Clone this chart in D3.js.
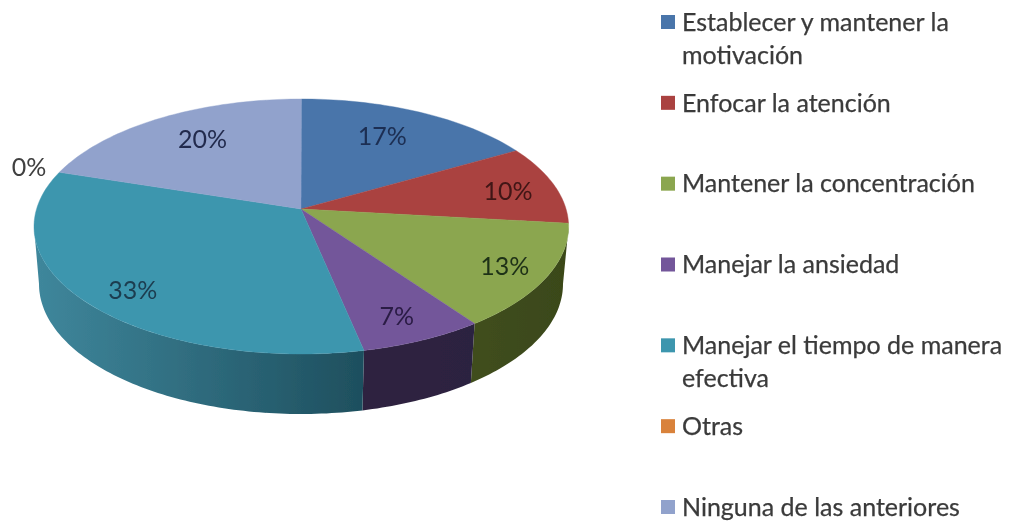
<!DOCTYPE html>
<html><head><meta charset="utf-8">
<script src="https://cdn.jsdelivr.net/npm/d3@7/dist/d3.min.js"></script>
<style>html,body{margin:0;padding:0;background:#fff}svg{display:block}</style>
</head><body><svg id="c" width="1012" height="521"></svg>
<script>
// data (responses per category, read as 30 answers in total)
const categories = ["Establecer y mantener la motivación","Enfocar la atención","Mantener la concentración","Manejar la ansiedad","Manejar el tiempo de manera efectiva","Otras","Ninguna de las anteriores"];
const legendLines = [["Establecer y mantener la","motivación"],["Enfocar la atención"],["Mantener la concentración"],["Manejar la ansiedad"],["Manejar el tiempo de manera","efectiva"],["Otras"],["Ninguna de las anteriores"]];
const counts = [5,3,4,2,10,0,6];
const topColors = ["#4874aa","#aa4341","#8ba64f","#73579a","#3e96ae","#d9823a","#91a2cc"];
const sideFrom = ["#2d4a6e","#6e2b2a","#404e1d","#2f2440","#3f879c","#8a5424","#5d6a85"];
const sideTo = ["#2d4a6e","#6e2b2a","#3a4719","#2c2240","#1e4f5e","#8a5424","#5d6a85"];
const labelFracX = [0.686,0.82,0.83,0.785,0.783,1.125,0.704];
const labelFracY = [0.75,0.72,0.84,0.82,0.87,1.13,0.77];

// layout
const W=1012,H=521;
const apex={x:301,y:209}, topE={cx:301.3,cy:226.5,rx:267.3,ry:127.5}, bottomE={cx:301,cy:284,rx:262,ry:130};
const warp=a=>a-0.131*Math.sin(a);   // perspective foreshortening of pie angles
const rim=(e,a)=>[e.cx+e.rx*Math.sin(a),e.cy-e.ry*Math.cos(a)];
const samples=(a0,a1)=>{const n=Math.max(2,Math.ceil(Math.abs(a1-a0)/0.02));return d3.range(n+1).map(i=>a0+(a1-a0)*i/n);};

const svg=d3.select("#c");
const defs=svg.append("defs");
defs.append("filter").attr("id","soft").append("feGaussianBlur").attr("stdDeviation",0.45);
const root=svg.append("g").attr("filter","url(#soft)");
const line=d3.line();

const total=d3.sum(counts);
const pct=d3.format(".0%");
const arcs=d3.pie().sort(null).startAngle(0).endAngle(2*Math.PI)(counts);

// gradients for the side wall
arcs.forEach((d,i)=>{
  const a0=Math.max(warp(d.startAngle),Math.PI/2), a1=Math.min(warp(d.endAngle),3*Math.PI/2);
  d.side=[a0,a1];
  const g=defs.append("linearGradient").attr("id","side"+i).attr("gradientUnits","userSpaceOnUse")
    .attr("x1",rim(topE,a1)[0]).attr("x2",rim(topE,a0)[0]).attr("y1",0).attr("y2",0);
  g.append("stop").attr("offset",0).attr("stop-color",sideFrom[i]);
  g.append("stop").attr("offset",1).attr("stop-color",sideTo[i]);
});

// side wall
root.append("g").selectAll("path").data(arcs.filter(d=>d.value>0&&d.side[1]>d.side[0])).join("path")
  .attr("d",d=>{
    const s=samples(d.side[0],d.side[1]);
    return line(s.map(a=>rim(topE,a)).concat(s.slice().reverse().map(a=>rim(bottomE,a))))+"Z";
  })
  .attr("fill",d=>`url(#side${d.index})`);

// top face
root.append("g").selectAll("path").data(arcs.filter(d=>d.value>0)).join("path")
  .attr("d",d=>line([[apex.x,apex.y]].concat(samples(warp(d.startAngle),warp(d.endAngle)).map(a=>rim(topE,a))))+"Z")
  .attr("fill",d=>topColors[d.index])
  .attr("stroke",d=>topColors[d.index]).attr("stroke-width",0.4);

// value labels
const labelColor=["#1d2f52","#3f1414","#1f3018","#2a1a44","#1c3d50","#404040","#232c4e"];
root.append("g").selectAll("text").data(arcs).join("text")
  .attr("x",d=>{const p=rim(topE,warp((d.startAngle+d.endAngle)/2));return apex.x+(p[0]-apex.x)*labelFracX[d.index];})
  .attr("y",d=>{const p=rim(topE,warp((d.startAngle+d.endAngle)/2));return apex.y+(p[1]-apex.y)*labelFracY[d.index];})
  .attr("dy","0.35em").attr("text-anchor","middle")
  .attr("font-family","Lato, 'Open Sans', sans-serif").attr("font-size",25)
  .attr("fill",d=>labelColor[d.index])
  .text(d=>pct(d.value/total));

// legend
const ly=d3.scalePoint().domain(categories).range([22,507]);
const leg=root.append("g").selectAll("g").data(categories).join("g")
  .attr("transform",d=>`translate(661,${ly(d)})`);
leg.append("rect").attr("x",0).attr("y",-7).attr("width",14).attr("height",14).attr("fill",(d,i)=>topColors[i]);
leg.each(function(d,i){
  d3.select(this).selectAll("text").data(legendLines[i]).join("text")
    .attr("x",21).attr("y",(t,j)=>j*33).attr("dy","0.35em")
    .attr("font-family","Lato, 'Open Sans', sans-serif").attr("font-size",25)
    .attr("fill","#3a3a3a").attr("stroke","#3a3a3a").attr("stroke-width",0.25).text(t=>t);
});
</script></body></html>
